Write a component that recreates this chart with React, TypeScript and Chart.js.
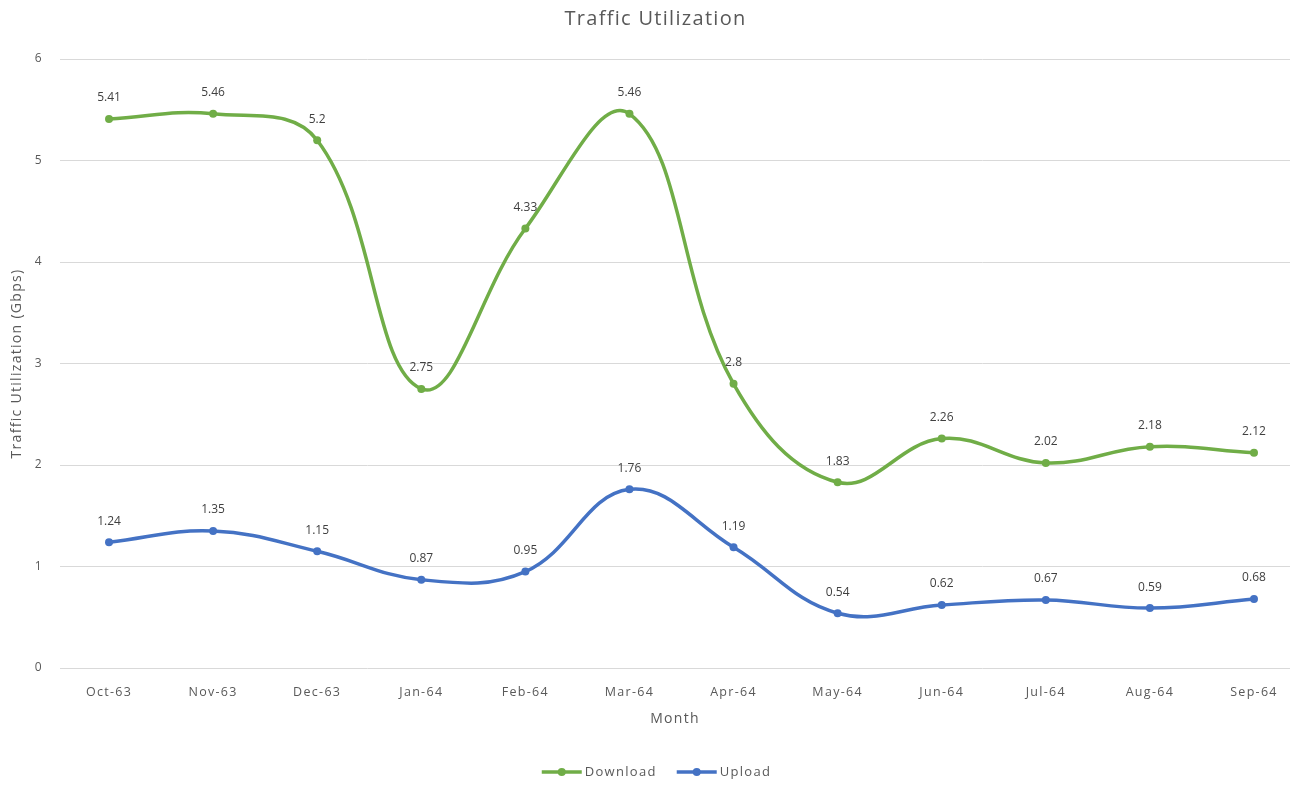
import React, { useEffect, useRef } from "react";
import { Chart, registerables } from "chart.js";

Chart.register(...registerables);

const months = ["Oct-63", "Nov-63", "Dec-63", "Jan-64", "Feb-64", "Mar-64", "Apr-64", "May-64", "Jun-64", "Jul-64", "Aug-64", "Sep-64"];
const download = [5.41, 5.46, 5.2, 2.75, 4.33, 5.46, 2.8, 1.83, 2.26, 2.02, 2.18, 2.12];
const upload = [1.24, 1.35, 1.15, 0.87, 0.95, 1.76, 1.19, 0.54, 0.62, 0.67, 0.59, 0.68];
const yTicks = [0, 1, 2, 3, 4, 5, 6];
const chartTitle = "Traffic Utilization";

const FONT = "'Open Sans', 'DejaVu Sans', sans-serif";
const GREEN = "#70ad47";
const BLUE = "#4472c4";
const TEXT = "#595959";
const SPACING = "1.3px";

// Loosens the tracking of all chart text (titles, ticks, legend).
const textTracking = {
  id: "textTracking",
  beforeLayout(chart: any) {
    chart.ctx.letterSpacing = SPACING;
  },
  beforeDraw(chart: any) {
    chart.ctx.letterSpacing = SPACING;
  },
};

// Chart heading, centred slightly right of the canvas middle.
const heading = {
  id: "heading",
  afterDraw(chart: any) {
    const ctx = chart.ctx;
    ctx.save();
    ctx.letterSpacing = SPACING;
    ctx.font = `20px ${FONT}`;
    ctx.fillStyle = TEXT;
    ctx.textAlign = "center";
    ctx.textBaseline = "middle";
    ctx.fillText(chartTitle, chart.width / 2 + 6, 19);
    ctx.restore();
  },
};

// Writes each point's value just above its marker.
const valueLabels = {
  id: "valueLabels",
  afterDatasetsDraw(chart: any) {
    const ctx = chart.ctx;
    ctx.save();
    ctx.letterSpacing = "0px";
    ctx.font = `12px ${FONT}`;
    ctx.fillStyle = "#404040";
    ctx.textAlign = "center";
    ctx.textBaseline = "middle";
    chart.data.datasets.forEach((ds: any, di: number) => {
      const meta = chart.getDatasetMeta(di);
      meta.data.forEach((pt: any, i: number) => {
        ctx.fillText(String(ds.data[i].y), pt.x, pt.y - 21);
      });
    });
    ctx.restore();
  },
};

// Bottom legend: a short line with a marker dot, then the series name.
const lineLegend = {
  id: "lineLegend",
  afterDraw(chart: any) {
    const ctx = chart.ctx;
    ctx.save();
    ctx.letterSpacing = SPACING;
    ctx.font = `13px ${FONT}`;
    const lineW = 40;
    const textGap = 3;
    const itemGap = 20;
    const items = chart.data.datasets.map((ds: any) => ({
      label: ds.label as string,
      color: ds.borderColor as string,
      w: ctx.measureText(ds.label).width,
    }));
    const total =
      items.reduce((s: number, it: any) => s + lineW + textGap + it.w, 0) + itemGap * (items.length - 1);
    let x = chart.width / 2 + 7 - total / 2;
    const y = 772;
    ctx.textBaseline = "middle";
    ctx.textAlign = "left";
    items.forEach((it: any) => {
      ctx.strokeStyle = it.color;
      ctx.lineWidth = 3.5;
      ctx.beginPath();
      ctx.moveTo(x, y);
      ctx.lineTo(x + lineW, y);
      ctx.stroke();
      ctx.fillStyle = it.color;
      ctx.beginPath();
      ctx.arc(x + lineW / 2, y, 4, 0, Math.PI * 2);
      ctx.fill();
      ctx.fillStyle = TEXT;
      ctx.fillText(it.label, x + lineW + textGap, y);
      x += lineW + textGap + it.w + itemGap;
    });
    ctx.restore();
  },
};

export default function App() {
  const ref = useRef<HTMLCanvasElement | null>(null);

  useEffect(() => {
    if (!ref.current) return;
    const toPoints = (vals: number[]) => vals.map((y, x) => ({ x, y }));
    const chart = new Chart(ref.current, {
      type: "line",
      data: {
        datasets: [
          {
            label: "Download",
            data: toPoints(download),
            borderColor: GREEN,
            backgroundColor: GREEN,
            borderWidth: 3.5,
            pointRadius: 4,
            pointBorderWidth: 0,
            tension: 0.4,
          },
          {
            label: "Upload",
            data: toPoints(upload),
            borderColor: BLUE,
            backgroundColor: BLUE,
            borderWidth: 3.5,
            pointRadius: 4,
            pointBorderWidth: 0,
            tension: 0.4,
          },
        ],
      },
      options: {
        responsive: false,
        animation: false,
        maintainAspectRatio: false,
        layout: { padding: { left: 0, right: 9, top: 59, bottom: 0 } },
        plugins: {
          title: { display: false },
          legend: { display: false },
          tooltip: { enabled: false },
        },
        scales: {
          x: {
            type: "linear",
            min: -0.471,
            max: 11.346,
            afterBuildTicks: (scale: any) => {
              scale.ticks = months.map((_, i) => ({ value: i }));
            },
            afterFit: (scale: any) => {
              scale.height = 117;
            },
            ticks: {
              color: TEXT,
              font: { family: FONT, size: 12.5, lineHeight: 1 },
              padding: 18,
              maxRotation: 0,
              autoSkip: false,
              callback: (v: any) => months[v as number] ?? "",
            },
            grid: { display: false, drawTicks: false },
            border: { display: false },
            title: {
              display: true,
              text: "Month",
              color: TEXT,
              font: { family: FONT, size: 14 },
              padding: { top: 0, bottom: 58 },
            },
          },
          y: {
            min: 0,
            max: 6,
            afterBuildTicks: (scale: any) => {
              scale.ticks = yTicks.map((value) => ({ value }));
            },
            afterFit: (scale: any) => {
              scale.width = 60;
            },
            ticks: {
              color: TEXT,
              font: { family: FONT, size: 12 },
              padding: 17,
            },
            grid: { color: "#d9d9d9", lineWidth: 1, drawTicks: false },
            border: { display: false },
            title: {
              display: true,
              text: "Traffic Utilization (Gbps)",
              color: TEXT,
              font: { family: FONT, size: 14 },
              padding: { top: 9, bottom: 0 },
            },
          },
        },
      },
      plugins: [textTracking, heading, valueLabels, lineLegend],
    });
    return () => chart.destroy();
  }, []);

  return (
    <div style={{ position: "fixed", left: 0, top: 0, width: 1299, height: 785, background: "#fff" }}>
      <canvas ref={ref} width={1299} height={785} style={{ display: "block" }} />
    </div>
  );
}
